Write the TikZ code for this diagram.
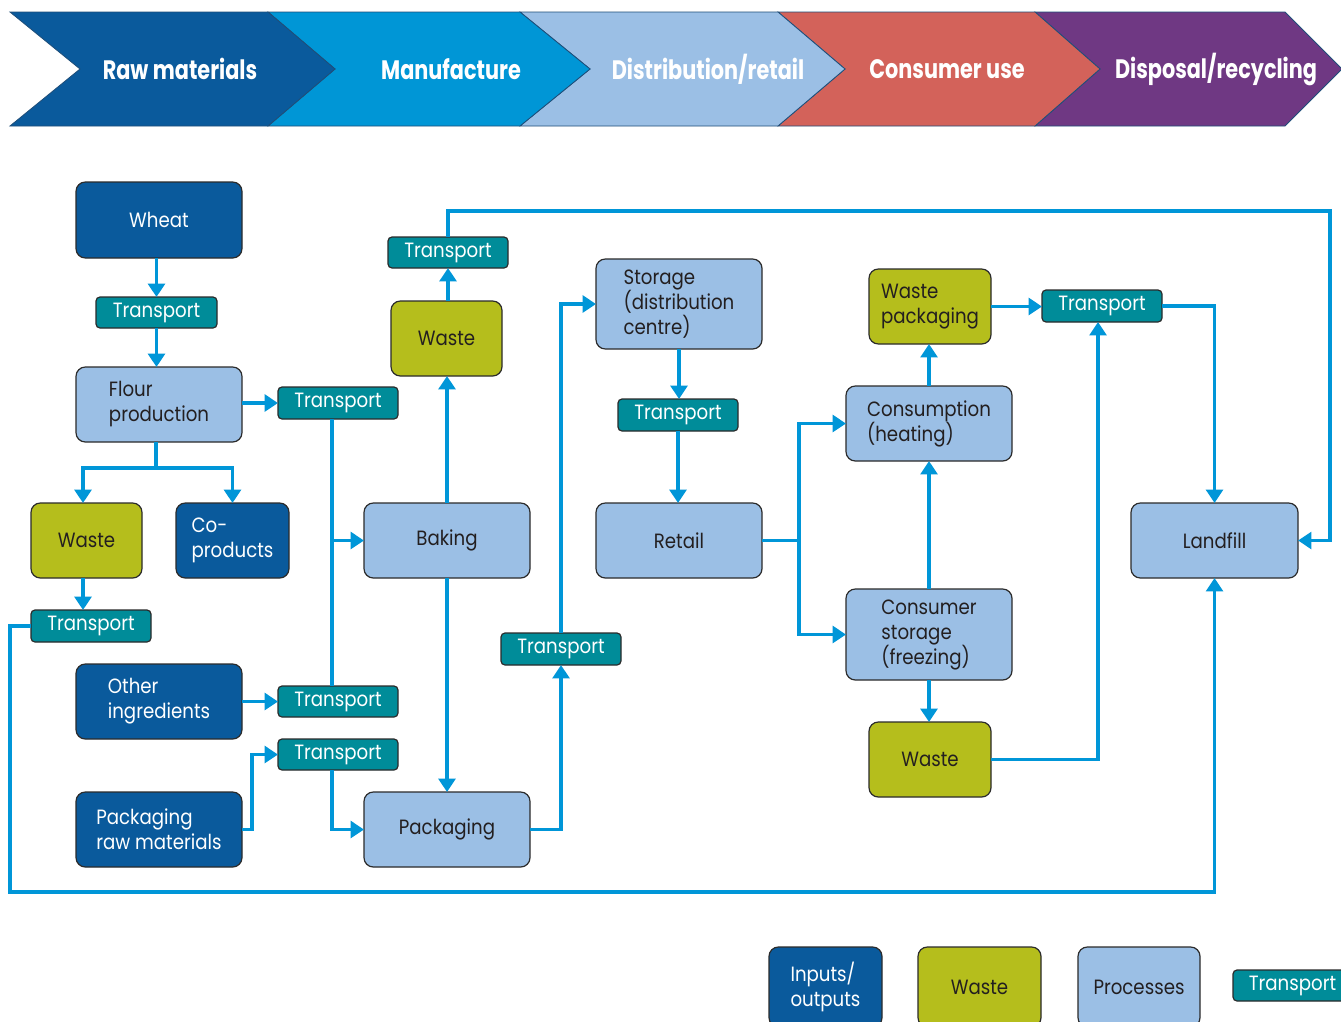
\documentclass[tikz,border=0pt]{standalone}
\usepackage{fontspec}
\setmainfont[FakeStretch=0.88]{Poppins}
\newfontfamily\hdrfont[FakeStretch=0.78]{Poppins}
\usetikzlibrary{arrows.meta}
\definecolor{cDark}{HTML}{0A5A9C}
\definecolor{cMid}{HTML}{0096D6}
\definecolor{cLight}{HTML}{9BBFE5}
\definecolor{cRed}{HTML}{D3625A}
\definecolor{cPurple}{HTML}{6F3883}
\definecolor{cOlive}{HTML}{B5BE1C}
\definecolor{cTeal}{HTML}{008C99}
\definecolor{cLine}{HTML}{0096D8}
\definecolor{cEdge}{HTML}{2B2B2B}
\definecolor{cText}{HTML}{231F20}
\definecolor{cChevEdge}{HTML}{1F4E79}
\tikzset{
  box/.style={draw=cEdge, line width=0.9pt, rounded corners=7pt, inner sep=0pt, outer sep=0pt,
    font=\fontsize{15.5}{18.75}\selectfont, align=left},
  io/.style={box, fill=cDark, text=white},
  wastebox/.style={box, fill=cOlive, text=cText},
  proc/.style={box, fill=cLight, text=cText},
  trans/.style={box, rounded corners=3pt, fill=cTeal, text=white},
  arr/.style={draw=cLine, line width=2.7pt, -{Triangle[length=10pt,width=12.5pt]}},
  ln/.style={draw=cLine, line width=2.7pt},
  chev/.style={draw=cChevEdge, line width=0.6pt},
  hdr/.style={text=white, font=\hdrfont\bfseries\fontsize{20}{22}\selectfont, inner sep=0pt}
}
\newcommand\bx[7]{\node[#2, minimum width={(#5-#3)*0.75pt}, minimum height={(#6-#4)*0.75pt}] (#1) at ({(#3+#5)/2},{(#4+#6)/2}) {#7};}
\begin{document}
\begin{tikzpicture}[x=0.75pt,y=-0.75pt]
\clip (0,0) rectangle (1341,1021);
\fill[white] (0,0) rectangle (1341,1021);
% header chevrons
\fill[cPurple,chev] (1035,12) -- (1285,12) -- (1342,69) -- (1285,126) -- (1035,126) -- (1100,69) -- cycle;
\fill[cRed,chev] (778,12) -- (1035,12) -- (1100,69) -- (1035,126) -- (778,126) -- (845,69) -- cycle;
\fill[cLight,chev] (520,12) -- (778,12) -- (845,69) -- (778,126) -- (520,126) -- (590,69) -- cycle;
\fill[cMid,chev] (268,12) -- (520,12) -- (590,69) -- (520,126) -- (268,126) -- (335,69) -- cycle;
\fill[cDark,chev] (10,12) -- (268,12) -- (335,69) -- (268,126) -- (10,126) -- (80,69) -- cycle;
\node[hdr] (h1) at (180,69) {Raw materials};
\node[hdr] (h2) at (451,69) {Manufacture};
\node[hdr] (h3) at (708,69) {Distribution/retail};
\node[hdr] (h4) at (947,69) {Consumer use};
\node[hdr] (h5) at (1216,69) {Disposal/recycling};
% boxes
\bx{wheat}{io}{76}{182}{242}{258}{Wheat}
\bx{t1}{trans}{96}{297}{217}{328}{Transport}
\bx{flour}{proc}{76}{367}{242}{442}{Flour\\production}
\bx{t2}{trans}{278}{387}{398}{419}{Transport}
\bx{w1}{wastebox}{31}{503}{142}{578}{Waste}
\bx{coprod}{io}{176}{503}{289}{578}{Co-\\products}
\bx{t3}{trans}{31}{610}{151}{642}{Transport}
\bx{other}{io}{76}{664}{242}{739}{Other\\ingredients}
\bx{t4}{trans}{278}{686}{398}{717}{Transport}
\bx{t5}{trans}{278}{739}{398}{770}{Transport}
\bx{prm}{io}{76}{792}{242}{867}{Packaging\\raw materials}
\bx{baking}{proc}{364}{503}{530}{578}{Baking}
\bx{pack}{proc}{364}{792}{530}{867}{Packaging}
\bx{w2}{wastebox}{391}{301}{502}{376}{Waste}
\bx{t6}{trans}{388}{237}{508}{268}{Transport}
\bx{t7}{trans}{501}{633}{621}{665}{Transport}
\bx{storage}{proc}{596}{259}{762}{349}{Storage\\(distribution\\centre)}
\bx{t8}{trans}{618}{399}{738}{431}{Transport}
\bx{retail}{proc}{596}{503}{762}{578}{Retail}
\bx{wp}{wastebox}{869}{269}{991}{344}{Waste\\packaging}
\bx{t9}{trans}{1042}{290}{1162}{322}{Transport}
\bx{cons}{proc}{846}{386}{1012}{461}{Consumption\\(heating)}
\bx{cstor}{proc}{846}{589}{1012}{680}{Consumer\\storage\\(freezing)}
\bx{w3}{wastebox}{869}{722}{991}{797}{Waste}
\bx{landfill}{proc}{1131}{503}{1298}{578}{Landfill}
% legend
\bx{lio}{io}{769}{947}{882}{1027}{Inputs/\\outputs}
\bx{lw}{wastebox}{918}{947}{1041}{1027}{Waste}
\bx{lp}{proc}{1078}{947}{1200}{1027}{Processes}
\bx{lt}{trans}{1233}{970}{1352}{1001}{Transport}
% helper coordinates
\coordinate (fj) at (156,468);
\coordinate (w1x) at (83,0);
\coordinate (vx) at (332,0);
\coordinate (bl) at (10,892);
\coordinate (tr) at (1330,211);
\coordinate (rj) at (799,0);
\coordinate (x9) at (1098,0);
% connectors
\draw[arr] (t1.north |- wheat.south) -- (t1.north);
\draw[arr] (t1.south) -- (t1.south |- flour.north);
\draw[arr] (flour.east |- t2.west) -- (t2.west);
\draw[ln] (flour.south -| fj) -- (fj);
\draw[arr] (fj) -| (coprod.north);
\draw[arr] (fj) -| (w1.north -| w1x);
\draw[arr] (w1.south -| w1x) -- (t3.north -| w1x);
\draw[arr] (t3.west) -| (bl) -| (landfill.south);
\draw[ln] (t2.south -| vx) -- (t4.north -| vx);
\draw[arr] (vx |- baking.west) -- (baking.west);
\draw[arr] (other.east |- t4.west) -- (t4.west);
\draw[arr] (prm.east) -- ++(10,0) |- (t5.west);
\draw[arr] (t5.south -| vx) |- (pack.west);
\draw[arr] (baking.north) -- (baking.north |- w2.south);
\draw[arr] (baking.south) -- (pack.north);
\draw[arr] (t6.south |- w2.north) -- (t6.south);
\draw[arr] (t6.north) |- (tr) |- (landfill.east);
\draw[arr] (pack.east) -| (t7.south);
\draw[arr] (t7.north) |- (storage.west);
\draw[arr] (storage.south) -- (storage.south |- t8.north);
\draw[arr] (t8.south) -- (t8.south |- retail.north);
\draw[ln] (retail.east) -- (retail.east -| rj);
\draw[arr] (retail.east -| rj) |- (cons.west);
\draw[arr] (retail.east -| rj) |- (cstor.west);
\draw[arr] (cstor.north) -- (cons.south);
\draw[arr] (cons.north) -- (cons.north |- wp.south);
\draw[arr] (cstor.south) -- (cstor.south |- w3.north);
\draw[arr] (wp.east) -- (wp.east -| t9.west);
\draw[arr] (w3.east) -| (t9.south -| x9);
\draw[arr] (t9.east) -| (landfill.north);
\end{tikzpicture}
\end{document}
